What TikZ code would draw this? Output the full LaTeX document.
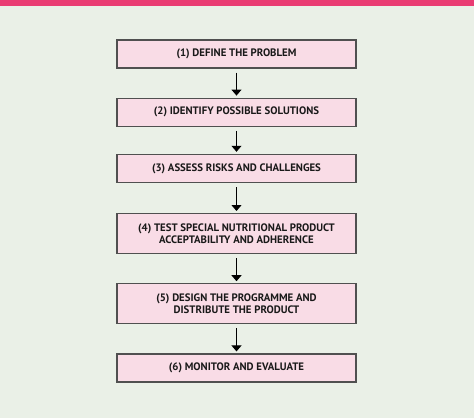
\documentclass[tikz,border=0pt]{standalone}
\usepackage{fontspec}
\setmainfont{PT Sans}
\usetikzlibrary{positioning,arrows.meta}
\definecolor{bgcol}{HTML}{EAF0E7}
\definecolor{barcol}{HTML}{E93C73}
\definecolor{boxcol}{HTML}{F9DCE6}
\definecolor{edgecol}{HTML}{505050}

\tikzstyle{stage} = [draw=edgecol, line width=1.2pt, fill=boxcol, text centered,
  minimum width=239pt, minimum height=28pt, inner sep=0pt, align=center,
  text=black!90, font=\fontsize{10.8}{12.5}\selectfont\bfseries]

\begin{document}
\begin{tikzpicture}[x=1pt, y=-1pt,
>={Triangle[width=10pt,length=6pt]},
node distance=29pt,
]

% background and top bar
\useasboundingbox (0,0) rectangle (474,418);
\fill[bgcol] (0,0) rectangle (474,418);
\fill[barcol] (0,0) rectangle (474,6);

% stages
\node[stage] (s1) at (236.5,54) {(1) DEFINE THE PROBLEM};
\node[stage, below=of s1] (s2) {(2) IDENTIFY POSSIBLE SOLUTIONS};
\node[stage, below=27pt of s2] (s3) {(3) ASSESS RISKS AND CHALLENGES};
\node[stage, below=30pt of s3, minimum height=40pt] (s4) {(4) TEST SPECIAL NUTRITIONAL PRODUCT\\ACCEPTABILITY AND ADHERENCE};
\node[stage, below=of s4, minimum height=40pt] (s5) {(5) DESIGN THE PROGRAMME AND\\DISTRIBUTE THE PRODUCT};
\node[stage, below=of s5] (s6) {(6) MONITOR AND EVALUATE};

% arrows
\foreach \a/\b in {s1/s2,s2/s3,s3/s4,s4/s5,s5/s6} {%
 \draw[->, line width=1pt] ([yshift=-4pt]\a.south) -- ([yshift=2pt]\b.north);
}

\end{tikzpicture}
\end{document}
